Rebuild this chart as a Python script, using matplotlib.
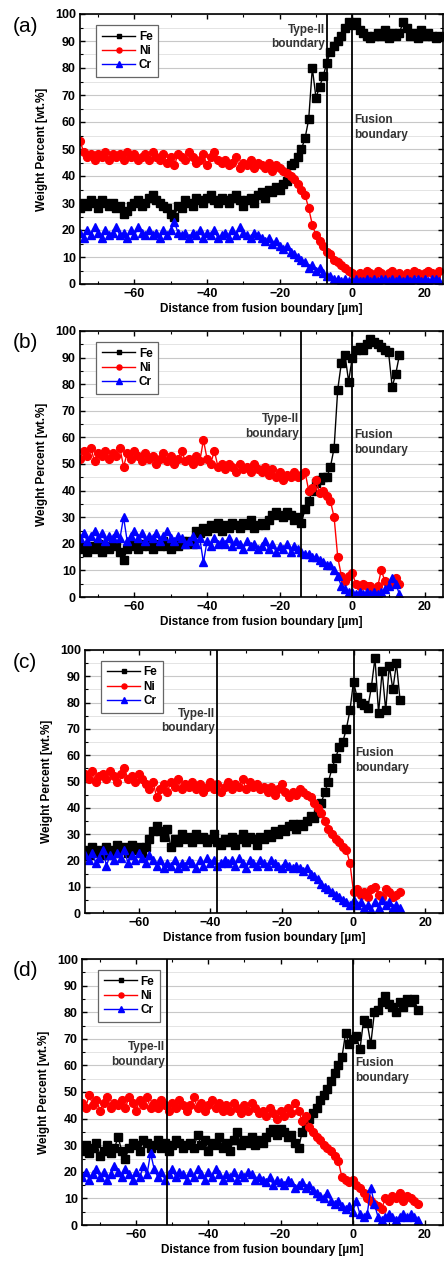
import numpy as np
import matplotlib.pyplot as plt
from matplotlib.ticker import MultipleLocator

plt.rcParams['font.family'] = ['Liberation Sans', 'DejaVu Sans']
plt.rcParams['font.weight'] = 'bold'
plt.rcParams['axes.labelweight'] = 'bold'

# distance from fusion boundary [um], 1 um steps
x_a = np.arange(-75, 25)
x_b = np.arange(-75, 14)
x_c = np.arange(-75, 14)
x_d = np.arange(-75, 19)

# (a)
fe_a = [28, 30, 29, 31, 30, 28, 31, 30, 29, 30,
        28, 29, 26, 27, 29, 30, 31, 29, 30, 32,
        33, 31, 30, 29, 28, 26, 25, 29, 28, 31,
        30, 29, 32, 31, 30, 32, 33, 31, 30, 32,
        31, 30, 32, 33, 31, 29, 31, 32, 30, 33,
        34, 32, 35, 34, 36, 35, 37, 38, 44, 45,
        47, 50, 54, 61, 80, 69, 73, 77, 82, 86,
        88, 90, 92, 95, 97, 96, 97, 94, 93, 92,
        91, 92, 93, 92, 94, 91, 93, 92, 93, 97,
        95, 92, 93, 91, 94, 92, 93, 92, 91, 92]
ni_a = [53, 49, 47, 48, 46, 48, 47, 49, 46, 48,
        47, 48, 46, 49, 47, 48, 46, 47, 48, 46,
        49, 47, 46, 48, 45, 47, 44, 48, 47, 46,
        49, 47, 45, 46, 48, 44, 47, 49, 46, 45,
        46, 44, 45, 47, 43, 45, 44, 46, 43, 45,
        44, 43, 45, 42, 44, 43, 42, 41, 40, 39,
        37, 35, 33, 28, 22, 18, 16, 14, 12, 11,
        9, 8, 7, 6, 5, 4, 3, 4, 3, 5,
        4, 3, 5, 4, 3, 4, 5, 3, 4, 3,
        4, 3, 5, 4, 3, 4, 5, 4, 3, 5]
cr_a = [19, 17, 20, 18, 21, 19, 17, 20, 18, 19,
        21, 18, 19, 17, 20, 18, 21, 19, 18, 20,
        18, 19, 17, 20, 18, 20, 23, 19, 18, 19,
        17, 19, 18, 20, 17, 19, 18, 20, 17, 18,
        19, 17, 20, 18, 21, 19, 18, 17, 19, 18,
        17, 16, 17, 15, 16, 14, 13, 14, 12, 11,
        10, 9, 8, 6, 7, 5, 6, 4, 3, 3,
        2, 2, 1, 2, 1, 1, 2, 1, 1, 2,
        1, 2, 1, 2, 2, 1, 2, 1, 2, 1,
        2, 1, 2, 2, 1, 2, 1, 2, 2, 1]

# (b)
fe_b = [18, 19, 17, 19, 18, 20, 17, 19, 18, 20,
        19, 17, 14, 18, 19, 20, 18, 19, 20, 19,
        18, 20, 19, 21, 19, 18, 20, 19, 21, 20,
        21, 20, 25, 24, 26, 25, 27, 26, 28, 25,
        27, 26, 28, 27, 26, 28, 27, 29, 26, 27,
        28, 27, 29, 31, 32, 31, 30, 32, 31, 29,
        30, 28, 33, 36, 40, 43, 44, 45, 45, 49,
        56, 78, 88, 91, 81, 90, 93, 94, 93, 95,
        97, 96, 95, 94, 93, 92, 79, 84, 91]
ni_b = [52, 55, 53, 56, 51, 54, 53, 55, 52, 54,
        53, 56, 49, 54, 52, 55, 53, 51, 54, 52,
        53, 50, 52, 54, 51, 53, 50, 52, 55, 51,
        52, 50, 53, 51, 59, 52, 50, 55, 49, 50,
        48, 50, 49, 47, 50, 48, 49, 47, 50, 48,
        47, 49, 46, 48, 45, 47, 44, 46, 45, 47,
        45, 46, 47, 40, 41, 44, 39, 40, 38, 36,
        30, 15, 8, 6, 8, 9, 5, 4, 5, 4,
        4, 3, 4, 10, 6, 4, 5, 7, 5]
cr_b = [22, 24, 21, 23, 25, 22, 24, 21, 23, 22,
        24, 22, 30, 21, 23, 25, 22, 24, 21, 23,
        22, 24, 21, 23, 25, 22, 21, 23, 22, 20,
        21, 23, 20, 22, 13, 21, 19, 22, 20, 21,
        20, 22, 19, 21, 20, 18, 21, 19, 20, 18,
        19, 21, 18, 20, 17, 19, 18, 20, 17, 19,
        18, 17, 16, 16, 15, 15, 14, 13, 12, 12,
        10, 8, 4, 3, 2, 2, 1, 2, 1, 2,
        1, 2, 1, 2, 3, 4, 7, 5, 1]

# (c)
fe_c = [24, 22, 25, 23, 24, 22, 25, 24, 23, 26,
        24, 25, 23, 26, 24, 25, 23, 25, 28, 31,
        33, 31, 29, 32, 25, 28, 27, 30, 28, 29,
        27, 30, 28, 29, 27, 28, 30, 27, 26, 28,
        27, 29, 26, 28, 30, 27, 29, 28, 26, 29,
        28, 30, 29, 31, 30, 32, 31, 33, 34, 32,
        34, 33, 35, 37, 36, 38, 42, 46, 50, 55,
        59, 63, 65, 70, 77, 88, 82, 80, 79, 78,
        86, 97, 76, 92, 77, 94, 85, 95, 81]
ni_c = [53, 51, 54, 50, 52, 53, 51, 54, 52, 50,
        53, 55, 51, 52, 50, 53, 51, 49, 47, 50,
        44, 47, 49, 46, 50, 48, 51, 47, 49, 48,
        50, 47, 49, 46, 48, 50, 47, 49, 46, 48,
        50, 47, 49, 48, 51, 47, 50, 48, 49, 47,
        48, 46, 48, 45, 47, 49, 46, 44, 46, 45,
        47, 46, 45, 44, 42, 40, 38, 35, 32, 30,
        28, 27, 25, 24, 19, 8, 9, 7, 8, 6,
        9, 10, 7, 6, 9, 8, 6, 7, 8]
cr_c = [22, 20, 23, 19, 21, 24, 18, 22, 20, 23,
        21, 24, 19, 22, 20, 23, 21, 19, 22, 20,
        18, 20, 17, 19, 18, 20, 17, 19, 18, 20,
        19, 17, 20, 18, 21, 19, 20, 18, 19, 20,
        19, 20, 18, 21, 19, 17, 20, 19, 18, 20,
        19, 18, 20, 19, 18, 17, 19, 18, 17, 18,
        17, 16, 17, 15, 14, 13, 11, 10, 9, 8,
        7, 6, 5, 4, 3, 5, 3, 4, 2, 3,
        1, 4, 2, 5, 3, 4, 2, 3, 2]

# (d)
fe_d = [28, 30, 27, 29, 31, 26, 28, 30, 27, 29,
        33, 28, 25, 29, 31, 30, 28, 32, 31, 29,
        30, 32, 29, 31, 28, 30, 32, 31, 29, 30,
        31, 29, 34, 30, 32, 28, 31, 30, 33, 29,
        31, 28, 32, 35, 30, 32, 31, 33, 30, 32,
        31, 33, 35, 36, 34, 36, 35, 33, 34, 31,
        29, 35, 38, 40, 42, 44, 47, 49, 51, 54,
        57, 60, 63, 72, 68, 70, 71, 66, 77, 76,
        68, 80, 81, 84, 86, 83, 82, 80, 84, 82,
        85, 84, 85, 81]
ni_d = [46, 44, 49, 45, 47, 43, 46, 48, 44, 46,
        45, 47, 44, 48, 46, 43, 47, 45, 48, 44,
        46, 44, 47, 45, 43, 46, 44, 47, 45, 43,
        45, 48, 44, 46, 43, 45, 47, 44, 46, 43,
        45, 43, 46, 44, 42, 45, 43, 46, 44, 42,
        43, 41, 44, 42, 40, 43, 41, 44, 42, 46,
        43, 39, 41, 37, 35, 33, 32, 30, 29, 28,
        26, 24, 18, 17, 16, 17, 15, 14, 12, 10,
        9, 8, 7, 6, 10, 9, 11, 10, 12, 9,
        11, 10, 9, 8]
cr_d = [18, 20, 17, 19, 21, 18, 20, 17, 19, 22,
        20, 18, 21, 19, 17, 20, 18, 22, 19, 27,
        21, 18, 20, 17, 19, 21, 18, 20, 19, 17,
        20, 18, 21, 19, 17, 20, 18, 21, 19, 17,
        19, 18, 20, 17, 19, 18, 20, 19, 17, 18,
        17, 16, 18, 15, 17, 16, 15, 17, 16, 14,
        15, 16, 14, 15, 13, 12, 11, 10, 12, 9,
        8, 9, 7, 6, 7, 5, 9, 4, 3, 4,
        14, 8, 3, 2, 3, 4, 3, 2, 3, 4,
        3, 4, 3, 2]

panel_labels = ['(a)', '(b)', '(c)', '(d)']
type2_pos = [-7, -14, -38, -51.5]
type2_text_y = [91.5, 64, 73, 64]
fusion_text_y = [58, 58, 58, 58]

panels = [(x_a, fe_a, ni_a, cr_a), (x_b, fe_b, ni_b, cr_b),
          (x_c, fe_c, ni_c, cr_c), (x_d, fe_d, ni_d, cr_d)]

# axes boxes in pixels: left, top, bottom
boxes = [(80, 14, 284), (80, 331, 597), (85, 650, 913), (82, 959, 1225)]

W, H = 444, 1264
fig = plt.figure(figsize=(W / 100, H / 100), dpi=100)

for i, (x, fe, ni, cr) in enumerate(panels):
    left, top, bottom = boxes[i]
    ax = fig.add_axes([left / W, 1 - bottom / H, (W - 1 - left) / W, (bottom - top) / H])

    ax.plot(x, fe, '-s', color='black', ms=5.2, lw=1.0, label='Fe')
    ax.plot(x, ni, '-o', color='#ff0000', ms=5.6, lw=1.0, label='Ni')
    ax.plot(x, cr, '-^', color='#0000ff', ms=5.6, lw=1.0, label='Cr')

    ax.axvline(type2_pos[i], color='black', lw=1.3)
    ax.axvline(0, color='black', lw=1.3)

    ax.text(type2_pos[i] - 0.6, type2_text_y[i], 'Type-II\nboundary', ha='right',
            va='center', fontsize=8.5, fontweight='bold', color='#333333', linespacing=1.3)
    ax.text(0.6, fusion_text_y[i], 'Fusion\nboundary', ha='left', va='center',
            fontsize=8.5, fontweight='bold', color='#333333', linespacing=1.3)

    ax.set_xlim(-75, 25)
    ax.set_ylim(0, 100)
    ax.xaxis.set_minor_locator(MultipleLocator(10))
    ax.yaxis.set_major_locator(MultipleLocator(10))
    ax.yaxis.set_minor_locator(MultipleLocator(5))
    ax.set_xticks([-60, -40, -20, 0, 20])
    ax.tick_params(which='both', direction='in', top=True, right=True,
                   labelsize=9, pad=3)
    ax.tick_params(which='major', length=3.5, width=1)
    ax.tick_params(which='minor', length=2, width=0.8)
    for lab in ax.get_xticklabels() + ax.get_yticklabels():
        lab.set_fontweight('bold')
    ax.grid(axis='y', which='major', color='#c8c8c8', lw=0.8)
    ax.grid(axis='y', which='minor', color='#e4e4e4', lw=0.7)
    ax.set_axisbelow(True)
    for s in ax.spines.values():
        s.set_linewidth(1.2)

    ax.set_xlabel('Distance from fusion boundary [µm]', fontsize=8.5,
                  fontweight='bold', labelpad=2)
    ax.set_ylabel('Weight Percent [wt.%]', fontsize=8.5, fontweight='bold', labelpad=5)

    leg = ax.legend(loc='upper left', bbox_to_anchor=(0.045, 0.96), borderaxespad=0,
                    prop={'size': 8.5, 'weight': 'bold'}, handlelength=2.8,
                    handletextpad=0.3, labelspacing=0.2, fancybox=False,
                    framealpha=1, edgecolor='#666666', borderpad=0.5,
                    markerscale=0.65)
    leg.get_frame().set_linewidth(0.9)

    fig.text(13 / W, 1 - (top + 12) / H, panel_labels[i], fontsize=15,
             fontweight='normal', ha='left', va='center')

fig.savefig('out.png', dpi=100)
